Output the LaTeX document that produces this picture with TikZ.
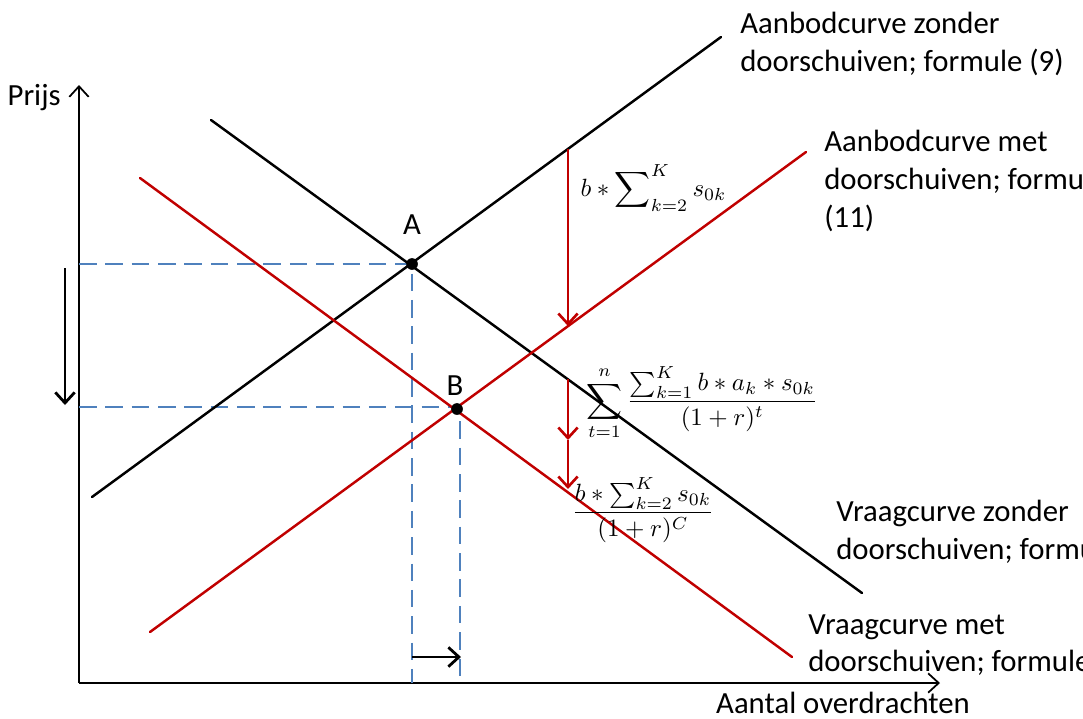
\documentclass[tikz,border=0pt]{standalone}
\usepackage{amsmath}
\usepackage{fontspec}
\setmainfont{Carlito}
\usetikzlibrary{arrows.meta}
\definecolor{curvered}{RGB}{192,0,0}
\definecolor{guideblue}{RGB}{79,129,189}

\begin{document}
\begin{tikzpicture}[x=0.02cm,y=-0.02cm,>={Straight Barb[length=6pt,width=11pt]},
    font=\fontsize{17.5}{21.5}\selectfont,
    curve/.style={line width=1.4pt,line cap=round},
    shiftline/.style={->,curvered,line width=1.5pt},
    guide/.style={guideblue,line width=1.4pt,dash pattern=on 10pt off 5pt},
    eq/.style={font=\normalsize,scale=1.42,inner sep=0pt},
    lbl/.style={align=left,anchor=north west,inner sep=0pt},
    dot/.style={circle,fill,inner sep=0pt,minimum size=6.5pt}]
    \useasboundingbox (0,0) rectangle (1083,718);
    \clip (0,0) rectangle (1083,718);

    % axes
    \coordinate (O) at (79,683);
    \coordinate (ytop) at (79,85);
    \coordinate (xend) at (940,683);
    \draw[->,line width=1pt] (O) -- (ytop);
    \draw[->,line width=1pt] (O) -- (xend);
    \node[anchor=base east,inner sep=0pt] (prijs) at (61,105) {Prijs};
    \node[anchor=base] (aantal) at (843,713) {Aantal overdrachten};

    % curve ends
    \coordinate (s0) at (92,497);   \coordinate (s1) at (721,37);
    \coordinate (d0) at (211,120);  \coordinate (d1) at (862,593);
    \coordinate (rs0) at (150,632); \coordinate (rs1) at (806,152);
    \coordinate (rd0) at (140,178); \coordinate (rd1) at (792,657);

    % equilibria
    \node[dot] (A) at (412,264) {};
    \node[dot] (B) at (457,409) {};
    \node[anchor=base] (Alab) at (412,234) {A};
    \node[anchor=base] (Blab) at (455,395) {B};

    % guide lines
    \coordinate (Ay) at (79,264);  \coordinate (Ax) at (412,683);
    \coordinate (By) at (79,407);  \coordinate (Bx) at (460,683);
    \draw[guide] (Ay) -- (A.center) -- (Ax);
    \draw[guide] (By) -- (460,407) -- (Bx);

    % curves
    \draw[curve] (s0) -- (s1);
    \draw[curve] (d0) -- (d1);
    \draw[curve,curvered] (rs0) -- (rs1);
    \draw[curve,curvered] (rd0) -- (rd1);
    \node[dot] at (A) {};
    \node[dot] at (B) {};

    % shifts
    \coordinate (p1) at (568,149); \coordinate (p2) at (568,326);
    \coordinate (q1) at (568,379); \coordinate (q2) at (568,440);
    \coordinate (q3) at (568,489);
    \draw[shiftline] (p1) -- (p2);
    \draw[shiftline] (q1) -- (q2);
    \draw[shiftline] (q2) -- (q3);
    \coordinate (pr0) at (65,268); \coordinate (pr1) at (65,405);
    \coordinate (qu0) at (412,657); \coordinate (qu1) at (461,657);
    \draw[->,line width=1.6pt] (pr0) -- (pr1);
    \draw[->,line width=1.6pt] (qu0) -- (qu1);

    % formulas
    \node[eq,anchor=west] (f1) at (580,188) {$\displaystyle b * \sum\nolimits_{k=2}^{K} s_{0k}$};
    \node[eq,anchor=west] (f2) at (586,403) {$\displaystyle \sum_{t=1}^{n}\frac{\sum_{k=1}^{K} b * a_k * s_{0k}}{(1+r)^{t}}$};
    \node[eq] (f3) at (643,510) {$\dfrac{b * \sum_{k=2}^{K} s_{0k}}{(1+r)^{C}}$};

    % curve labels
    \node[lbl] (lab1) at (740,12) {Aanbodcurve zonder\\doorschuiven; formule (9)};
    \node[lbl] (lab2) at (824,130) {Aanbodcurve met\\doorschuiven; formule\\(11)};
    \node[lbl] (lab3) at (836,500) {Vraagcurve zonder\\doorschuiven; formule};
    \node[lbl] (lab4) at (808,614) {Vraagcurve met\\doorschuiven; formule};
\end{tikzpicture}
\end{document}
